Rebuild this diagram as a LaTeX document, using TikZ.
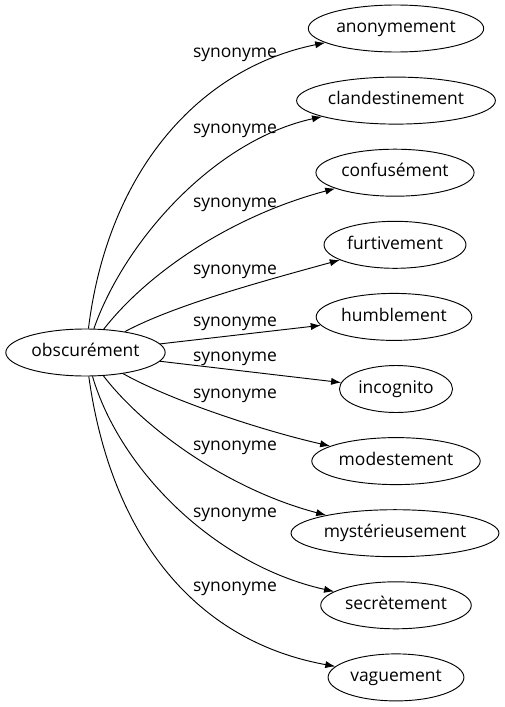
\documentclass[tikz,border=0pt]{standalone}
\usepackage{fontspec}
\setmainfont{Open Sans}
\usetikzlibrary{arrows.meta, shapes.geometric}

\begin{document}
\begin{tikzpicture}[>={Latex[length=7.5pt, width=5.4pt]}, x=0.75pt, y=-0.75pt, line width=0.7pt, font=\fontsize{13.1}{15}\selectfont,
	word/.style={draw, ellipse, minimum height=35.25pt, inner xsep=1.7pt, inner ysep=0pt, text height=0.88em, text depth=0.25em},
	rel/.style={inner sep=0pt, text height=0.88em, text depth=0.25em}]

\useasboundingbox (0, 0) rectangle (504, 707);

\node[word] (obscur) at (85.5, 352.5) {obscurément};

\node[word] (anonym) at (396, 28.5) {anonymement};
\node[word] (clandest) at (396, 100.6) {clandestinement};
\node[word] (confus) at (395, 172.7) {confusément};
\node[word] (furtiv) at (395, 244.8) {furtivement};
\node[word] (humbl) at (394, 316.9) {humblement};
\node[word] (incogn) at (396, 389) {incognito};
\node[word] (modest) at (396, 461.1) {modestement};
\node[word] (myster) at (395, 533.2) {mystérieusement};
\node[word] (secret) at (396, 605.3) {secrètement};
\node[word] (vague) at (396, 677.4) {vaguement};

\draw[->] (obscur) .. controls (108, 170) and (200, 68) .. (anonym);
\draw[->] (obscur) .. controls (125, 240) and (215, 140) .. (clandest);
\draw[->] (obscur) .. controls (150, 270) and (235, 215) .. (confus);
\draw[->] (obscur) .. controls (175, 305) and (260, 282) .. (furtiv);
\draw[->] (obscur) -- (humbl);
\draw[->] (obscur) -- (incogn);
\draw[->] (obscur) .. controls (170, 400) and (260, 430) .. (modest);
\draw[->] (obscur) .. controls (145, 430) and (230, 490) .. (myster);
\draw[->] (obscur) .. controls (120, 470) and (215, 565) .. (secret);
\draw[->] (obscur) .. controls (110, 530) and (190, 640) .. (vague);

\node[rel] (rel1) at (235, 53) {synonyme};
\node[rel] (rel2) at (235, 129) {synonyme};
\node[rel] (rel3) at (235, 203) {synonyme};
\node[rel] (rel4) at (235, 270) {synonyme};
\node[rel] (rel5) at (235, 322) {synonyme};
\node[rel] (rel6) at (235, 357) {synonyme};
\node[rel] (rel7) at (235, 394) {synonyme};
\node[rel] (rel8) at (235, 446) {synonyme};
\node[rel] (rel9) at (235, 513) {synonyme};
\node[rel] (rel10) at (235, 587) {synonyme};

\end{tikzpicture}
\end{document}
